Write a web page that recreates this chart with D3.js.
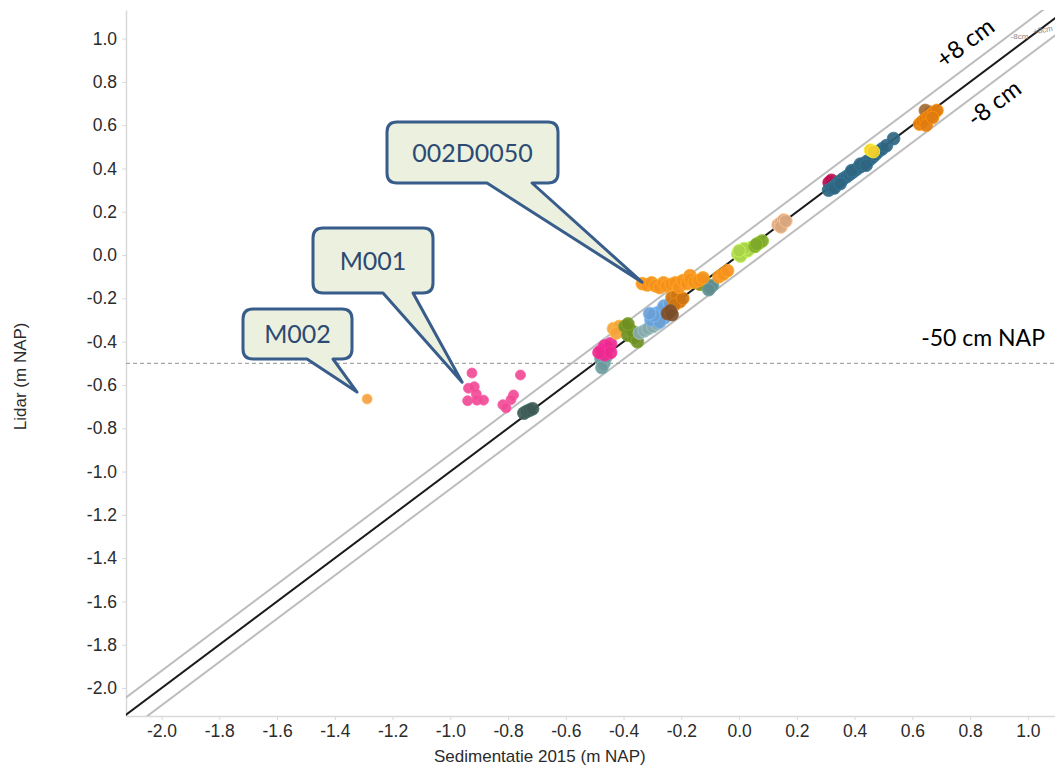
<!DOCTYPE html>
<html>
<head>
<meta charset="utf-8">
<script src="https://cdn.jsdelivr.net/npm/d3@7"></script>
<style>
  body { margin: 0; background: #fff; }
  #chart { width: 1055px; height: 768px; }
</style>
</head>
<body>
<div id="chart"></div>
<script>
// tick labels
const xTicks = [-2.0, -1.8, -1.6, -1.4, -1.2, -1.0, -0.8, -0.6, -0.4, -0.2, 0.0, 0.2, 0.4, 0.6, 0.8, 1.0];
const yTicks = [-2.0, -1.8, -1.6, -1.4, -1.2, -1.0, -0.8, -0.6, -0.4, -0.2, 0.0, 0.2, 0.4, 0.6, 0.8, 1.0];

// [sedimentatie 2015, lidar] per meetgroep
const m002 = [[-1.288, -0.665]];
const m001 = [[-0.925, -0.545], [-0.757, -0.554], [-0.937, -0.615], [-0.917, -0.608], [-0.91, -0.642], [-0.94, -0.673],
  [-0.908, -0.67], [-0.885, -0.67], [-0.781, -0.646], [-0.79, -0.668], [-0.818, -0.691], [-0.807, -0.706]];
const d002D0050 = [[-0.335, -0.132], [-0.318, -0.138], [-0.303, -0.128], [-0.29, -0.142], [-0.275, -0.15], [-0.262, -0.128],
  [-0.25, -0.142], [-0.235, -0.135], [-0.22, -0.128], [-0.208, -0.148], [-0.195, -0.118], [-0.18, -0.132], [-0.17, -0.095],
  [-0.168, -0.112], [-0.155, -0.125], [-0.14, -0.118], [-0.125, -0.105], [-0.07, -0.1], [-0.055, -0.088], [-0.04, -0.072]];
const olijf = [[-0.128, -0.118], [-0.118, -0.13], [-0.108, -0.14], [-0.135, -0.135]];
const tealgrijs = [[-0.1, -0.15], [-0.092, -0.14], [-0.105, -0.16]];
const donkeroranje = [[-0.232, -0.195], [-0.215, -0.188], [-0.205, -0.215], [-0.222, -0.228], [-0.195, -0.2]];
const blauw = [[-0.305, -0.3], [-0.285, -0.268], [-0.27, -0.258], [-0.258, -0.29], [-0.275, -0.31], [-0.245, -0.248],
  [-0.295, -0.28], [-0.26, -0.235], [-0.31, -0.27], [-0.24, -0.225]];
const bruin = [[-0.248, -0.27], [-0.238, -0.258], [-0.232, -0.275]];
const grijsblauw = [[-0.345, -0.36], [-0.328, -0.35], [-0.315, -0.34], [-0.298, -0.33], [-0.285, -0.318]];
const lichtoranje = [[-0.435, -0.34], [-0.415, -0.33], [-0.425, -0.36]];
const groen = [[-0.395, -0.33], [-0.385, -0.37], [-0.365, -0.38], [-0.352, -0.4], [-0.372, -0.35], [-0.385, -0.318]];
const teal = [[-0.478, -0.48], [-0.468, -0.5], [-0.475, -0.52], [-0.46, -0.47]];
const magenta = [[-0.475, -0.44], [-0.465, -0.42], [-0.455, -0.43], [-0.445, -0.41], [-0.465, -0.46], [-0.485, -0.45],
  [-0.445, -0.45]];
const donkergrijs = [[-0.745, -0.73], [-0.735, -0.722], [-0.725, -0.716], [-0.715, -0.71]];
const lichtgroen = [[-0.005, 0.005], [0.012, 0.015], [0.025, 0.025], [0.042, 0.035], [0.005, -0.005], [0.03, 0.02],
  [0.018, 0.03], [0.0, 0.02]];
const grasgroen = [[0.055, 0.04], [0.068, 0.055], [0.08, 0.065], [0.06, 0.05]];
const beige = [[0.135, 0.14], [0.145, 0.15], [0.155, 0.162], [0.145, 0.13], [0.162, 0.157]];
const petrol = [[0.31, 0.3], [0.322, 0.31], [0.335, 0.325], [0.348, 0.34], [0.36, 0.352], [0.372, 0.362], [0.382, 0.372],
  [0.392, 0.382], [0.402, 0.392], [0.412, 0.402], [0.422, 0.41], [0.432, 0.42], [0.442, 0.432], [0.452, 0.44],
  [0.462, 0.452], [0.472, 0.465], [0.482, 0.478], [0.495, 0.49], [0.51, 0.505], [0.535, 0.538], [0.33, 0.31], [0.35, 0.33],
  [0.39, 0.39], [0.42, 0.42], [0.44, 0.415]];
const karmijn = [[0.312, 0.335], [0.32, 0.345], [0.322, 0.328]];
const geel = [[0.455, 0.485], [0.465, 0.478]];
const oranjeTop = [[0.625, 0.605], [0.635, 0.618], [0.645, 0.628], [0.655, 0.638], [0.665, 0.648], [0.675, 0.66],
  [0.685, 0.668], [0.648, 0.6], [0.67, 0.635]];
const bruinTop = [[0.645, 0.668], [0.658, 0.66]];

const series = [
  ["donkergrijs", donkergrijs], ["teal", teal], ["magenta", magenta], ["lichtoranje", lichtoranje], ["groen", groen],
  ["grijsblauw", grijsblauw], ["blauw", blauw], ["donkeroranje", donkeroranje], ["bruin", bruin],
  ["olijf", olijf], ["tealgrijs", tealgrijs], ["d002D0050", d002D0050], ["lichtgroen", lichtgroen], ["grasgroen", grasgroen],
  ["beige", beige], ["karmijn", karmijn], ["petrol", petrol], ["geel", geel], ["bruinTop", bruinTop], ["oranjeTop", oranjeTop],
  ["m001", m001], ["m002", m002]
];

const colors = {
  donkergrijs: "#3d5a55", teal: "#6c9a9c", magenta: "#ec2a8e", lichtoranje: "#f4a23a", groen: "#6e8f22",
  grijsblauw: "#88a9aa", blauw: "#6aa0d6", donkeroranje: "#cc7412", bruin: "#7a4e2a", olijf: "#8c8a1c",
  tealgrijs: "#5f8d8f", d002D0050: "#f5901c", lichtgroen: "#a8d24a", grasgroen: "#7ea82a", beige: "#d8a67e",
  karmijn: "#b3104e", petrol: "#2f6580", geel: "#f2cf2c", bruinTop: "#9c6a38", oranjeTop: "#e07b0e",
  m001: "#ef4b93", m002: "#f5a044"
};

const bandwidth = 0.08;   // +/- 8 cm
const napLevel = -0.5;    // -50 cm NAP

const width = 1055, height = 768;
const margin = { top: 10, right: 0, bottom: 52, left: 126 };

const x = d3.scaleLinear().domain([-2.123, 1.094]).range([margin.left, width - margin.right]);
const y = d3.scaleLinear().domain([-2.129, 1.132]).range([height - margin.bottom, margin.top]);

const svg = d3.select("#chart").append("svg")
  .attr("width", width).attr("height", height)
  .style("font-family", "'Liberation Sans', Arial, sans-serif");

svg.append("clipPath").attr("id", "plot")
  .append("rect")
  .attr("x", margin.left).attr("y", margin.top)
  .attr("width", width - margin.left - margin.right)
  .attr("height", height - margin.top - margin.bottom);

const fmt = (d) => d.toFixed(1);

// axes
const yAxis = svg.append("g")
  .attr("transform", `translate(${margin.left},0)`)
  .call(d3.axisLeft(y).tickValues(yTicks).tickFormat(fmt).tickSize(4).tickPadding(5).tickSizeOuter(0));
const xAxis = svg.append("g")
  .attr("transform", `translate(0,${height - margin.bottom})`)
  .call(d3.axisBottom(x).tickValues(xTicks).tickFormat(fmt).tickSize(4).tickPadding(5).tickSizeOuter(0));

[xAxis, yAxis].forEach((g) => {
  g.select(".domain").attr("stroke", "#d9d9d9").attr("stroke-width", 1.5);
  g.selectAll(".tick line").attr("stroke", "#d9d9d9");
  g.selectAll(".tick text").attr("fill", "#2b2b2b").style("font-size", "17.5px")
    .style("font-family", "'Liberation Sans', Arial, sans-serif");
});

svg.append("text")
  .attr("x", x(-0.69)).attr("y", 762)
  .attr("text-anchor", "middle")
  .attr("fill", "#2b2b2b").style("font-size", "17px")
  .text("Sedimentatie 2015 (m NAP)");

svg.append("text")
  .attr("transform", `translate(26,${y(-0.56)}) rotate(-90)`)
  .attr("text-anchor", "middle")
  .attr("fill", "#2b2b2b").style("font-size", "17px")
  .text("Lidar (m NAP)");

// reference lines
const plot = svg.append("g").attr("clip-path", "url(#plot)");
const [lo, hi] = [-2.3, 1.3];

[bandwidth, -bandwidth].forEach((off) => {
  plot.append("line")
    .attr("x1", x(lo)).attr("y1", y(lo + off))
    .attr("x2", x(hi)).attr("y2", y(hi + off))
    .attr("stroke", "#bdbdbd").attr("stroke-width", 2);
});
plot.append("line")
  .attr("x1", x(lo)).attr("y1", y(lo))
  .attr("x2", x(hi)).attr("y2", y(hi))
  .attr("stroke", "#1a1a1a").attr("stroke-width", 2);

plot.append("line")
  .attr("x1", x.range()[0]).attr("x2", x.range()[1])
  .attr("y1", y(napLevel)).attr("y2", y(napLevel))
  .attr("stroke", "#a6a6a6").attr("stroke-width", 1.3)
  .attr("stroke-dasharray", "4,3");

// points
series.forEach(([name, pts]) => {
  const small = name === "m001" || name === "m002";
  plot.append("g").selectAll("circle")
    .data(pts)
    .join("circle")
    .attr("cx", (d) => x(d[0]))
    .attr("cy", (d) => y(d[1]))
    .attr("r", small ? 5 : 6.4)
    .attr("fill", colors[name])
    .attr("fill-opacity", 0.92)
    .attr("stroke", d3.color(colors[name]).brighter(0.5))
    .attr("stroke-width", 0.8);
});

// line labels
const angle = -Math.atan((y(0) - y(1)) / (x(1) - x(0))) * 180 / Math.PI;
svg.append("text")
  .attr("transform", `translate(${x(0.80)},${y(0.95)}) rotate(${angle})`)
  .attr("text-anchor", "middle")
  .style("font-family", "Lato, 'Open Sans', sans-serif").style("font-size", "24px")
  .text("+8 cm");
svg.append("text")
  .attr("transform", `translate(${x(0.9)},${y(0.67)}) rotate(${angle})`)
  .attr("text-anchor", "middle")
  .style("font-family", "Lato, 'Open Sans', sans-serif").style("font-size", "24px")
  .text("-8 cm");
svg.append("text")
  .attr("x", x(0.94)).attr("y", y(1.0))
  .attr("fill", "#888").style("font-size", "8px")
  .text("-8cm");
svg.append("text")
  .attr("transform", `translate(${x(1.02)},${y(1.02)}) rotate(-10)`)
  .attr("fill", "#888").style("font-size", "8px")
  .text("+8cm");

svg.append("text")
  .attr("x", width - 10).attr("y", y(napLevel) - 17)
  .attr("text-anchor", "end")
  .style("font-family", "Lato, 'Open Sans', sans-serif").style("font-size", "23px")
  .text("-50 cm NAP");

// callouts: box in pixels, tail pointing at the labelled point
const callouts = [
  { text: "002D0050", box: [387, 122, 558, 183], base: [487, 532], tip: [-0.336, -0.125] },
  { text: "M001", box: [313, 228, 433, 293], base: [383, 413], tip: [-0.959, -0.587] },
  { text: "M002", box: [243, 309, 352, 359], base: [307, 333], tip: [-1.323, -0.633] }
];

function calloutPath(c) {
  const [x0, y0, x1, y1] = c.box, r = 10;
  const tx = x(c.tip[0]), ty = y(c.tip[1]);
  return `M${x0 + r},${y0} H${x1 - r} Q${x1},${y0} ${x1},${y0 + r} V${y1 - r} Q${x1},${y1} ${x1 - r},${y1}` +
    ` H${c.base[1]} L${tx},${ty} L${c.base[0]},${y1} H${x0 + r} Q${x0},${y1} ${x0},${y1 - r}` +
    ` V${y0 + r} Q${x0},${y0} ${x0 + r},${y0} Z`;
}

const co = svg.append("g").selectAll("g").data(callouts).join("g");
co.append("path")
  .attr("d", calloutPath)
  .attr("fill", "#ebf1de")
  .attr("stroke", "#385d8a")
  .attr("stroke-width", 3)
  .attr("stroke-linejoin", "round");
co.append("text")
  .attr("x", (d) => (d.box[0] + d.box[2]) / 2)
  .attr("y", (d) => (d.box[1] + d.box[3]) / 2 + 9)
  .attr("text-anchor", "middle")
  .attr("fill", "#2c4a73")
  .style("font-family", "Lato, 'Open Sans', sans-serif").style("font-size", "25px")
  .text((d) => d.text);
</script>
</body>
</html>
